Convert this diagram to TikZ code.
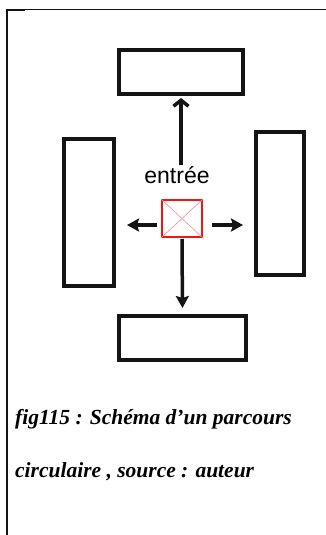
\documentclass[tikz,border=0pt]{standalone}
\usepackage{fontspec}
\setmainfont{Liberation Serif}
\newfontfamily\arialfont{Liberation Sans}
\usetikzlibrary{arrows.meta,calc}

\begin{document}
\begin{tikzpicture}[x=1pt,y=-1pt]
  \definecolor{ink}{RGB}{20,20,20}
  \definecolor{label}{RGB}{45,45,55}
  \definecolor{door}{RGB}{240,20,20}
  \definecolor{doorX}{RGB}{245,140,140}
  \tikzset{
    blk/.style={draw=ink, line width=4pt, inner sep=0pt},
    arr/.style={draw=ink, line width=3.5pt, -{Stealth[length=12pt,width=13pt,inset=2pt]}},
    arrup/.style={draw=ink, line width=3.5pt, -{Straight Barb[length=6pt,width=15pt]}}
  }
  \useasboundingbox (0,0) rectangle (326,535);

  % frame of the figure
  \draw[ink, line width=1pt] (6,9.5) -- (326,9.5);
  \draw[ink, line width=2pt] (6,10) -- (25,10);
  \draw[ink, line width=2pt] (7,9) -- (7,535);

  % the four stands
  \foreach \name/\x/\y/\w/\h in {
    top/181/72/124/44,
    lbox/89/212.5/50/147,
    rbox/280/203.5/48/143,
    bot/182.5/338/127/44
  } {
    \node[blk, minimum width=\w pt, minimum height=\h pt] (\name) at (\x,\y) {};
  }

  % entrance
  \node[draw=door, line width=2pt, minimum width=40pt, minimum height=37pt, inner sep=0pt] (red) at (182,218.5) {};
  \draw[doorX, line width=0.6pt] (red.north west) -- (red.south east);
  \draw[doorX, line width=0.6pt] (red.north east) -- (red.south west);
  \node[label, font=\arialfont\fontsize{23}{26}\selectfont, inner sep=1pt] (entree) at (177,175) {entrée};

  % directions of the visit
  \coordinate (mid) at ($(red.center)+(0,6.5)$);
  \draw[arrup, shorten >=2pt] (top.south |- entree.north) -- (top.south);
  \draw[arr, shorten <=4pt, shorten >=11pt] (mid -| red.west) -- (mid -| lbox.east);
  \draw[arr, shorten <=9pt, shorten >=11pt] (mid -| red.east) -- (mid -| rbox.west);
  \draw[arr, shorten <=1pt, shorten >=6pt] (red.south) -- (bot.north);

  % caption
  \node[anchor=base west, inner sep=0pt, font=\bfseries\itshape\fontsize{21.5}{24}\selectfont] (cap1) at (15,424) {fig115 : Schéma d’un parcours};
  \node[anchor=base west, inner sep=0pt, font=\bfseries\itshape\fontsize{21.5}{24}\selectfont] (cap2) at (15,477) {circulaire , source : auteur};
\end{tikzpicture}
\end{document}
